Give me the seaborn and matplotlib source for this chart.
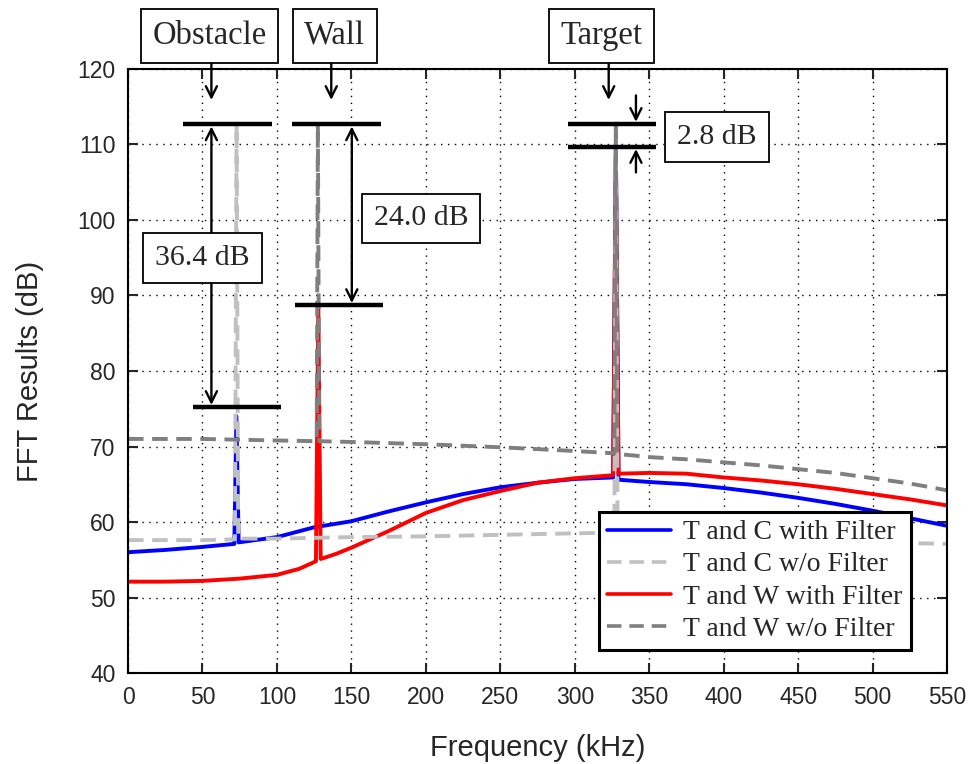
import matplotlib
matplotlib.use("Agg")
import matplotlib.pyplot as plt
import seaborn as sns
import pandas as pd

# ---------------- data ----------------
tc_filt_x = [0, 25, 50, 71.4, 72.8, 74.3, 100, 125, 150, 175, 200, 225, 250, 275, 300,
             325.8, 327.6, 329.4, 350, 375, 400, 425, 450, 475, 500, 525, 550]
tc_filt_y = [56.0, 56.3, 56.7, 57.1, 74.0, 57.3, 58.0, 59.3, 60.1, 61.4, 62.6, 63.7, 64.6, 65.2, 65.7,
             65.9, 109.7, 65.6, 65.3, 65.0, 64.5, 63.9, 63.2, 62.4, 61.5, 60.5, 59.5]

tc_nof_x = [0, 50, 71.8, 72.9, 74.0, 100, 150, 200, 250, 300,
            326.6, 327.6, 328.8, 350, 400, 450, 500, 550]
tc_nof_y = [57.6, 57.6, 57.7, 112.7, 57.8, 57.8, 58.0, 58.1, 58.3, 58.5,
            58.6, 112.7, 58.0, 58.0, 57.8, 57.6, 57.3, 57.1]

tw_filt_x = [0, 25, 50, 75, 100, 115, 126.2, 127.8, 129.4, 140, 150, 175, 200, 225, 250, 275, 300,
             325.8, 327.6, 329.4, 350, 375, 400, 425, 450, 475, 500, 525, 550]
tw_filt_y = [52.1, 52.1, 52.2, 52.5, 53.0, 53.8, 54.8, 88.8, 55.1, 55.8, 56.6, 58.8, 61.2, 62.9, 64.1, 65.2, 65.8,
             66.2, 109.7, 66.4, 66.5, 66.4, 65.9, 65.5, 65.0, 64.4, 63.7, 63.0, 62.2]

tw_nof_x = [0, 50, 100, 126.7, 127.5, 128.4, 150, 200, 250, 300,
            326.6, 327.6, 328.6, 340, 350, 375, 400, 425, 450, 475, 500, 525, 550]
tw_nof_y = [71.0, 71.0, 70.8, 70.7, 112.7, 70.7, 70.6, 70.3, 69.9, 69.4,
            69.1, 112.7, 69.0, 68.8, 68.6, 68.3, 67.9, 67.5, 67.0, 66.5, 65.8, 65.1, 64.2]

series_labels = ["T and C with Filter", "T and C w/o Filter",
                 "T and W with Filter", "T and W w/o Filter"]

x_ticks = [0, 50, 100, 150, 200, 250, 300, 350, 400, 450, 500, 550]
y_ticks = [40, 50, 60, 70, 80, 90, 100, 110, 120]

# annotation values
top_level = 112.7
obstacle_low = 75.2
wall_low = 88.7
target_low = 109.7

# ---------------- figure ----------------
sns.set_style("ticks")
plt.rcParams["font.family"] = ["Liberation Sans", "DejaVu Sans"]
serif = ["Liberation Serif", "DejaVu Serif"]

fig = plt.figure(figsize=(9.72, 7.64), dpi=100)
ax = fig.add_axes([0.1317, 0.1191, 0.8426, 0.7906])

LW = 2.8
DASH = (0, (4.0, 2.2))

def draw(xs, ys, color, ls="-"):
    df = pd.DataFrame({"f": xs, "v": ys})
    sns.lineplot(data=df, x="f", y="v", ax=ax, color=color, lw=LW,
                 linestyle=ls, estimator=None, sort=False, legend=False)
    return ax.lines[-1]

h_blue = draw(tc_filt_x, tc_filt_y, "#0000ff")
h_red = draw(tw_filt_x, tw_filt_y, "#ff0000")
h_lgray = draw(tc_nof_x, tc_nof_y, "#c0c0c0", DASH)
h_dgray = draw(tw_nof_x, tw_nof_y, "#7f7f7f", DASH)

ax.set_xlim(0, 550)
ax.set_ylim(40, 120)
ax.set_xticks(x_ticks)
ax.set_yticks(y_ticks)
ax.grid(True, color="black", linestyle=(0, (1, 4)), linewidth=1.0)
ax.tick_params(direction="in", length=7, width=1.5, labelsize=16.5,
               top=True, right=True, pad=9)
for s in ax.spines.values():
    s.set_linewidth(1.5)
    s.set_color("black")
ax.set_xlabel("Frequency (kHz)", fontsize=21, labelpad=18)
ax.set_ylabel("FFT Results (dB)", fontsize=21, labelpad=24)

leg = ax.legend([h_blue, h_lgray, h_red, h_dgray], series_labels,
                loc="lower right", bbox_to_anchor=(0.956, 0.038),
                borderaxespad=0, frameon=True, fancybox=False,
                prop={"family": serif, "size": 20},
                handlelength=2.3, handletextpad=0.45, labelspacing=0.24,
                borderpad=0.3)
leg.get_frame().set_edgecolor("black")
leg.get_frame().set_linewidth(2.2)
leg.get_frame().set_alpha(1)
for line in leg.get_lines():
    line.set_linewidth(2.6)

# ---------------- annotations ----------------
bar_kw = dict(color="black", lw=3.2, solid_capstyle="butt", clip_on=False, zorder=6)
ax.plot([36.9, 96.9], [top_level, top_level], **bar_kw)
ax.plot([43.6, 103.0], [obstacle_low, obstacle_low], **bar_kw)
ax.plot([110.0, 170.0], [top_level, top_level], **bar_kw)
ax.plot([112.0, 171.1], [wall_low, wall_low], **bar_kw)
ax.plot([295.4, 354.6], [top_level, top_level], **bar_kw)
ax.plot([295.4, 354.6], [target_low, target_low], **bar_kw)

arrow1 = dict(arrowstyle="->,head_length=0.8,head_width=0.4", color="black", lw=1.7,
              shrinkA=0, shrinkB=0)
arrow2 = dict(arrowstyle="<->,head_length=0.8,head_width=0.4", color="black", lw=1.7,
              shrinkA=0, shrinkB=0)

top_box = dict(boxstyle="square,pad=0.36", fc="white", ec="black", lw=1.3)
db_box = dict(boxstyle="square,pad=0.4", fc="white", ec="black", lw=1.3)

# top labels with arrows
for label, xc, xa in [("Obstacle", 54.8, 56.0), ("Wall", 138.9, 136.5), ("Target", 318.0, 322.8)]:
    ax.text(xc, 124.4, label, ha="center", va="center", fontsize=23.5,
            family=serif, bbox=top_box, clip_on=False, zorder=7)
    ax.annotate("", xy=(xa, 115.9), xytext=(xa, 121.0), arrowprops=arrow1,
                annotation_clip=False, zorder=6)

# double arrows
ax.annotate("", xy=(56.0, obstacle_low + 0.3), xytext=(56.0, top_level - 0.3),
            arrowprops=arrow2, annotation_clip=False, zorder=6)
ax.annotate("", xy=(150.3, wall_low + 0.3), xytext=(150.3, top_level - 0.3),
            arrowprops=arrow2, annotation_clip=False, zorder=6)
ax.annotate("", xy=(341.1, top_level + 0.3), xytext=(341.1, 116.5),
            arrowprops=arrow1, annotation_clip=False, zorder=6)
ax.annotate("", xy=(341.1, target_low - 0.3), xytext=(341.1, 106.3),
            arrowprops=arrow1, annotation_clip=False, zorder=6)

# dB labels
ax.text(50.1, 95.0, "36.4 dB", ha="center", va="center", fontsize=21.5,
        family=serif, bbox=db_box, zorder=7)
ax.text(196.9, 100.2, "24.0 dB", ha="center", va="center", fontsize=21.5,
        family=serif, bbox=db_box, zorder=7)
ax.text(395.7, 111.0, "2.8 dB", ha="center", va="center", fontsize=21.5,
        family=serif, bbox=db_box, zorder=7)

fig.savefig("out.png", dpi=100)
